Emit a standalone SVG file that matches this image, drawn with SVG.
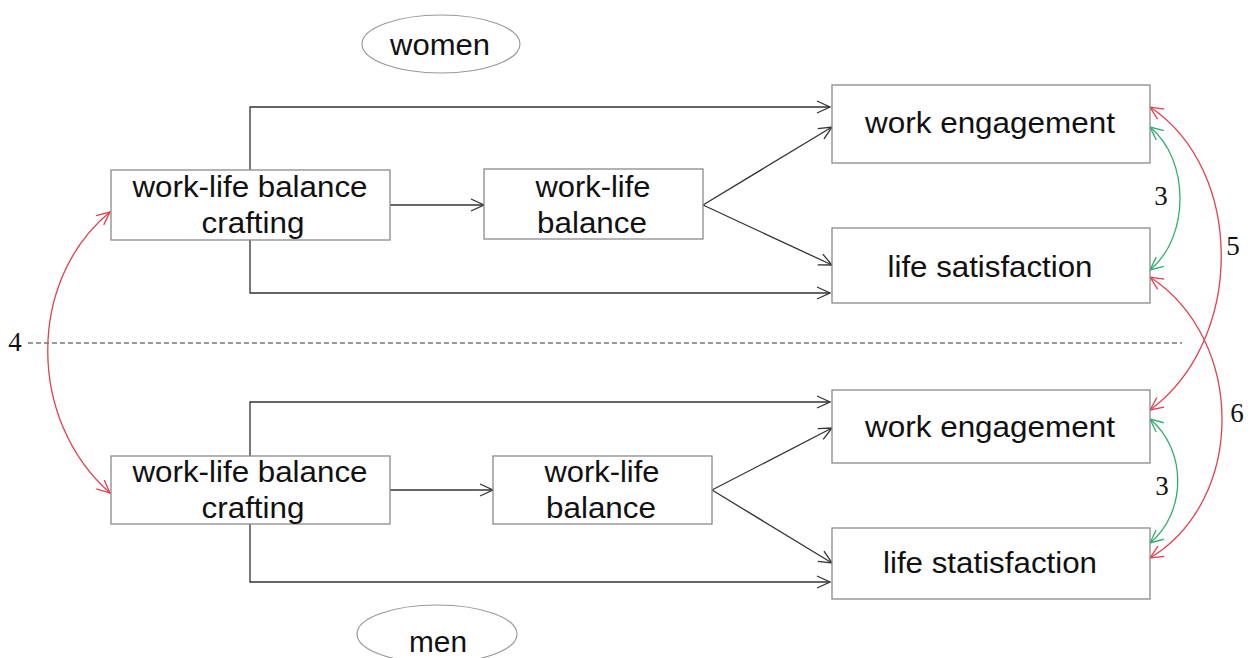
<svg xmlns="http://www.w3.org/2000/svg" width="1251" height="658" viewBox="0 0 1251 658">
<style>
.box{fill:#fff;stroke:#8a8a8a;stroke-width:1.3}
.t{font-family:"Liberation Sans",Arial,sans-serif;font-size:30px;fill:#111;text-anchor:middle}
.n{font-family:"Liberation Serif","Times New Roman",serif;font-size:27px;fill:#111;text-anchor:middle}
.c{fill:none;stroke:#333;stroke-width:1.3}
.r{fill:none;stroke:#e0404f;stroke-width:1.3}
.g{fill:none;stroke:#2fae6e;stroke-width:1.3}
</style>
<defs>
<marker id="ab" markerUnits="userSpaceOnUse" markerWidth="16" markerHeight="16" viewBox="-14 -8 16 16" refX="0" refY="0" orient="auto-start-reverse"><path d="M-13,-6 L0,0 L-13,6" fill="none" stroke="#333" stroke-width="1.3"/></marker>
<marker id="ar" markerUnits="userSpaceOnUse" markerWidth="16" markerHeight="16" viewBox="-14 -8 16 16" refX="0" refY="0" orient="auto-start-reverse"><path d="M-13,-6 L0,0 L-13,6" fill="none" stroke="#e0404f" stroke-width="1.3"/></marker>
<marker id="ag" markerUnits="userSpaceOnUse" markerWidth="16" markerHeight="16" viewBox="-14 -8 16 16" refX="0" refY="0" orient="auto-start-reverse"><path d="M-13,-6 L0,0 L-13,6" fill="none" stroke="#2fae6e" stroke-width="1.3"/></marker>
</defs>
<rect width="1251" height="658" fill="#fff"/>
<g id="connectors">
<line x1="28" y1="343" x2="1182" y2="343" stroke="#333" stroke-width="1" stroke-dasharray="5,3"/>
<path class="c" d="M250,170 V107 H830" marker-end="url(#ab)"/>
<path class="c" d="M250,240 V293 H830" marker-end="url(#ab)"/>
<path class="c" d="M390,205 H484" marker-end="url(#ab)"/>
<path class="c" d="M703,205 L832,127" marker-end="url(#ab)"/>
<path class="c" d="M703,205 L832,265" marker-end="url(#ab)"/>
<path class="c" d="M250,456 V402 H830" marker-end="url(#ab)"/>
<path class="c" d="M250,524 V582 H830" marker-end="url(#ab)"/>
<path class="c" d="M390,490 H493" marker-end="url(#ab)"/>
<path class="c" d="M712,490 L832,428" marker-end="url(#ab)"/>
<path class="c" d="M712,490 L832,563" marker-end="url(#ab)"/>
<path class="r" d="M110,212 C27,280 27,420 110,493" marker-start="url(#ar)" marker-end="url(#ar)"/>
<path class="g" d="M1150,127 C1190,160 1190,237 1150,270" marker-start="url(#ag)" marker-end="url(#ag)"/>
<path class="r" d="M1150,107 C1245,170 1245,340 1150,410" marker-start="url(#ar)" marker-end="url(#ar)"/>
<path class="r" d="M1150,277 C1246,340 1246,500 1150,558" marker-start="url(#ar)" marker-end="url(#ar)"/>
<path class="g" d="M1150,419 C1187,450 1187,512 1150,543" marker-start="url(#ag)" marker-end="url(#ag)"/>
<text class="n" x="15" y="351">4</text>
<text class="n" x="1161" y="205">3</text>
<text class="n" x="1233" y="255">5</text>
<text class="n" x="1237" y="422">6</text>
<text class="n" x="1162" y="495">3</text>
</g>
<g id="women"><ellipse cx="441" cy="44" rx="79" ry="29" fill="#fff" stroke="#999" stroke-width="1.2"/><text class="t" x="440" y="55" textLength="100" lengthAdjust="spacingAndGlyphs">women</text></g>
<g id="men"><ellipse cx="437" cy="634" rx="80" ry="29" fill="#fff" stroke="#999" stroke-width="1.2"/><text class="t" x="438" y="652" textLength="58" lengthAdjust="spacingAndGlyphs">men</text></g>
<g id="w-craft"><rect class="box" x="111" y="170" width="279" height="70"/><text class="t" x="250" y="197" textLength="235" lengthAdjust="spacingAndGlyphs">work-life balance</text><text class="t" x="253" y="233" textLength="103" lengthAdjust="spacingAndGlyphs">crafting</text></g>
<g id="w-wlb"><rect class="box" x="484" y="169" width="219" height="70"/><text class="t" x="593" y="197" textLength="115" lengthAdjust="spacingAndGlyphs">work-life</text><text class="t" x="592" y="233" textLength="110" lengthAdjust="spacingAndGlyphs">balance</text></g>
<g id="w-we"><rect class="box" x="832" y="85" width="318" height="78"/><text class="t" x="990" y="133" textLength="250" lengthAdjust="spacingAndGlyphs">work engagement</text></g>
<g id="w-ls"><rect class="box" x="832" y="228" width="318" height="75"/><text class="t" x="990" y="277" textLength="205" lengthAdjust="spacingAndGlyphs">life satisfaction</text></g>
<g id="m-craft"><rect class="box" x="111" y="456" width="279" height="68"/><text class="t" x="250" y="482" textLength="235" lengthAdjust="spacingAndGlyphs">work-life balance</text><text class="t" x="253" y="518" textLength="103" lengthAdjust="spacingAndGlyphs">crafting</text></g>
<g id="m-wlb"><rect class="box" x="493" y="456" width="219" height="68"/><text class="t" x="602" y="482" textLength="115" lengthAdjust="spacingAndGlyphs">work-life</text><text class="t" x="601" y="518" textLength="110" lengthAdjust="spacingAndGlyphs">balance</text></g>
<g id="m-we"><rect class="box" x="832" y="390" width="318" height="73"/><text class="t" x="990" y="437" textLength="250" lengthAdjust="spacingAndGlyphs">work engagement</text></g>
<g id="m-ls"><rect class="box" x="832" y="528" width="318" height="71"/><text class="t" x="990" y="573" textLength="214" lengthAdjust="spacingAndGlyphs">life statisfaction</text></g>
</svg>
